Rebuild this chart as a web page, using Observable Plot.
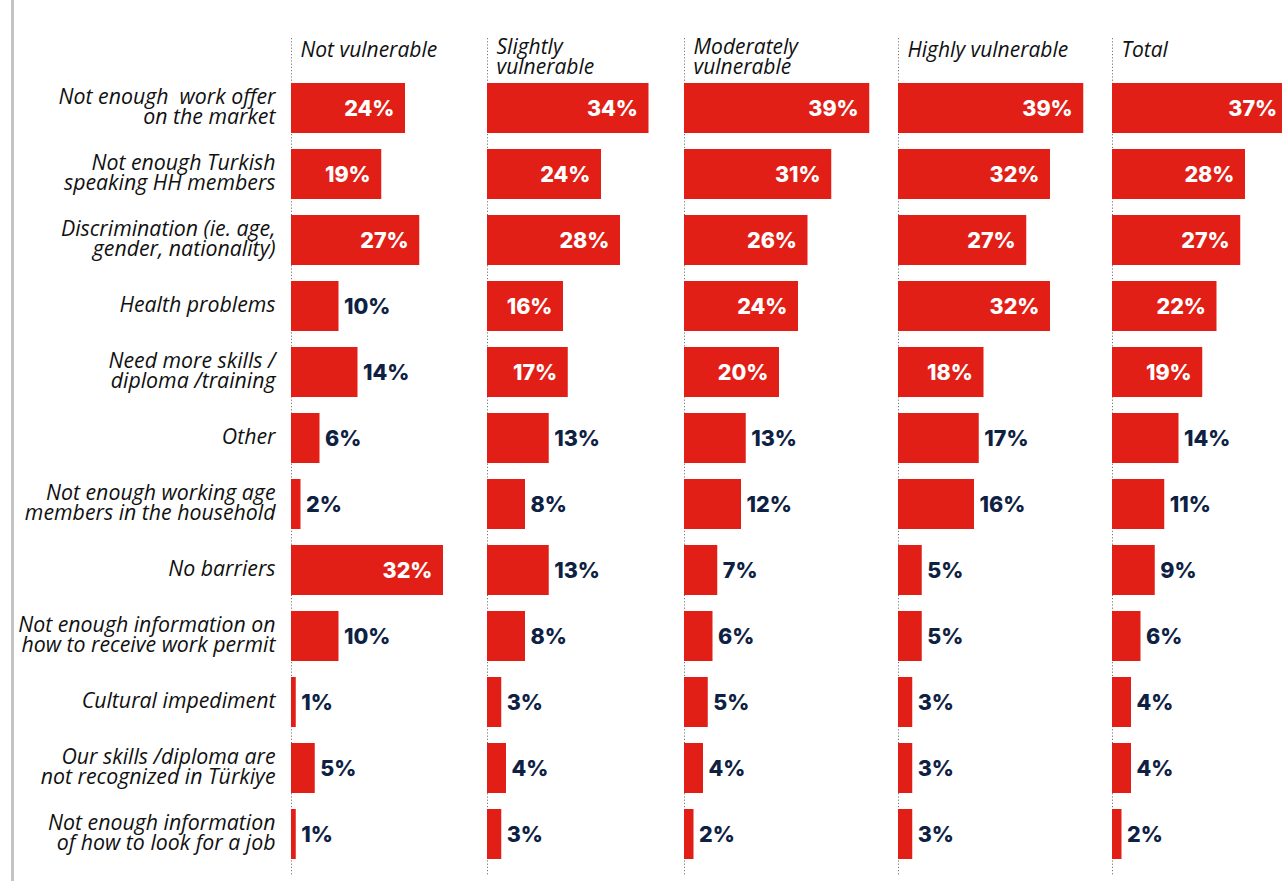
<!DOCTYPE html>
<html>
<head>
<meta charset="utf-8">
<script src="https://cdn.jsdelivr.net/npm/d3@7"></script>
<script src="https://cdn.jsdelivr.net/npm/@observablehq/plot@0.6"></script>
<style>
  html, body { margin: 0; padding: 0; background: #fff; }
  #wrap { position: relative; width: 1282px; height: 881px; overflow: hidden; }
  #leftline { position: absolute; left: 11px; top: 0; width: 3px; height: 881px; background: #c4c4c4; }
  #panels { position: absolute; left: 0; top: 0; display: flex; flex-direction: row; }
  #panels svg { overflow: visible; }
</style>
</head>
<body>
<div id="wrap">
  <div id="leftline"></div>
  <div id="panels"></div>
</div>
<script>
const categories = [
  "Not enough  work offer\non the market",
  "Not enough Turkish\nspeaking HH members",
  "Discrimination (ie. age,\ngender, nationality)",
  "Health problems",
  "Need more skills /\ndiploma /training",
  "Other",
  "Not enough working age\nmembers in the household",
  "No barriers",
  "Not enough information on\nhow to receive work permit",
  "Cultural impediment",
  "Our skills /diploma are\nnot recognized in Türkiye",
  "Not enough information\nof how to look for a job"
];
const groups = ["Not vulnerable", "Slightly\nvulnerable", "Moderately\nvulnerable", "Highly vulnerable", "Total"];
const notVulnerable = [24, 19, 27, 10, 14, 6, 2, 32, 10, 1, 5, 1];
const slightlyVulnerable = [34, 24, 28, 16, 17, 13, 8, 13, 8, 3, 4, 3];
const moderatelyVulnerable = [39, 31, 26, 24, 20, 13, 12, 7, 6, 5, 4, 2];
const highlyVulnerable = [39, 32, 27, 32, 18, 17, 16, 5, 5, 3, 3, 3];
const total = [37, 28, 27, 22, 19, 14, 11, 9, 6, 4, 4, 2];
const seriesValues = [notVulnerable, slightlyVulnerable, moderatelyVulnerable, highlyVulnerable, total];

const RED = "#e21f16";
const NAVY = "#0e2142";
const LABEL_FONT = "'Open Sans', sans-serif";
const VALUE_FONT = "Inter, 'Open Sans', sans-serif";
const firstMargin = 291;
const panelWidths = [196, 197, 214, 214, 190];
const barSpan = 190;

const container = document.getElementById("panels");

groups.forEach((g, gi) => {
  const rows = categories.map((c, i) => ({category: c, value: seriesValues[gi][i], idx: i}));
  const inside = d => (d.idx < 5 && d.value >= 15) || d.value >= 30;
  const isFirst = gi === 0;
  const ml = isFirst ? firstMargin : 0;
  const width = ml + panelWidths[gi];
  const marks = [
    Plot.ruleX([0], {stroke: "#777", strokeWidth: 1, strokeDasharray: "1.2,2"}),
    Plot.barX(rows, {y: "category", x: "value", fill: RED}),
    Plot.text(rows.filter(inside), {
      y: "category", x: "value", text: d => d.value + "%",
      textAnchor: "end", dx: -11, dy: 1, fill: "white",
      fontFamily: VALUE_FONT, fontWeight: 800, fontSize: 21.5
    }),
    Plot.text(rows.filter(d => !inside(d)), {
      y: "category", x: "value", text: d => d.value + "%",
      textAnchor: "start", dx: 5, dy: 1, fill: NAVY,
      fontFamily: VALUE_FONT, fontWeight: 800, fontSize: 21.5
    }),
    Plot.text([g], {
      frameAnchor: "top-left", dx: 9, dy: g.includes("\n") ? 1 : 4, lineAnchor: "top",
      fontFamily: LABEL_FONT, fontStyle: "italic", fontSize: 21, lineHeight: 0.97,
      fill: "#111"
    })
  ];
  if (isFirst) {
    marks.push(Plot.text(rows, {
      y: "category", frameAnchor: "left", text: "category",
      textAnchor: "end", dx: -16, dy: -1, lineHeight: 0.97,
      fontFamily: LABEL_FONT, fontStyle: "italic", fontSize: 21.3, fill: "#111"
    }));
  }
  const chart = Plot.plot({
    width: width,
    height: 881,
    marginLeft: ml,
    marginRight: panelWidths[gi] - barSpan,
    marginTop: 38,
    marginBottom: 5,
    style: {fontFamily: LABEL_FONT, background: "transparent", overflow: "visible"},
    x: {domain: [0, 40], axis: null},
    y: {domain: categories, padding: 0.24, insetTop: 29, axis: null},
    marks
  });
  container.appendChild(chart);
});
</script>
</body>
</html>
